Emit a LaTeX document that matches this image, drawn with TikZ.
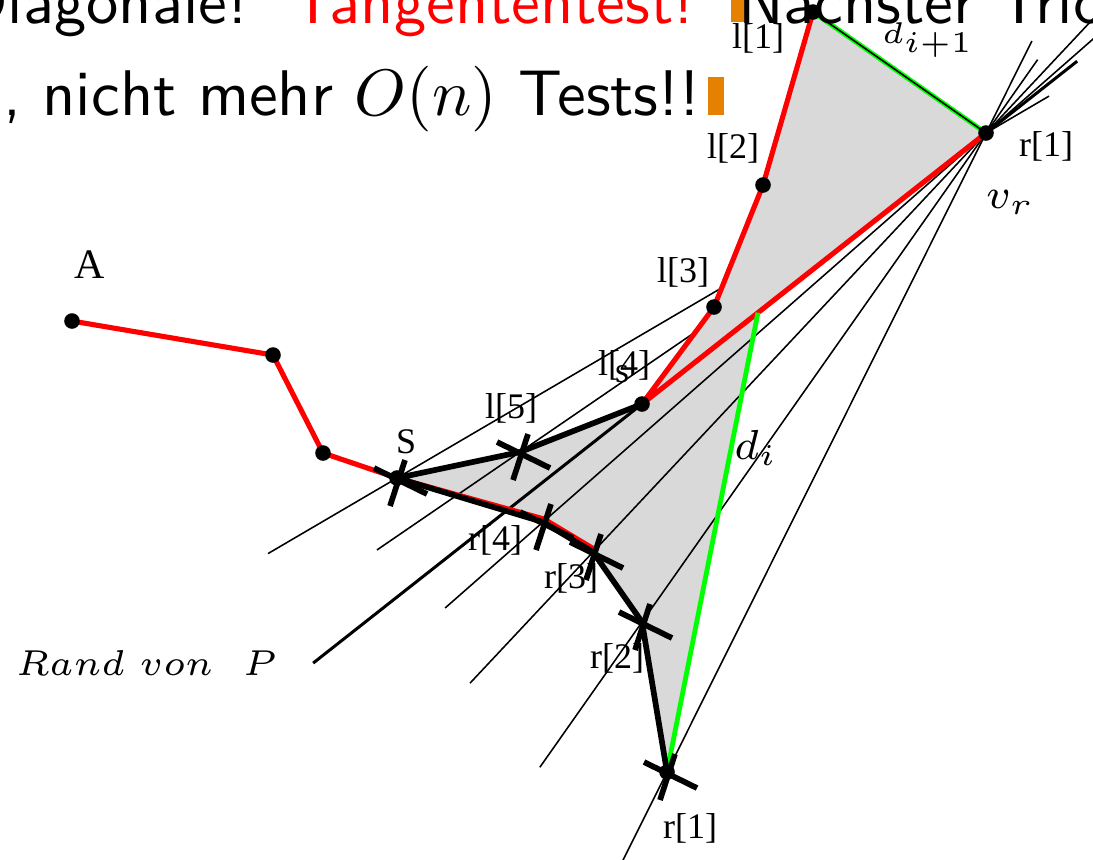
\documentclass[tikz,border=0pt]{standalone}
\usepackage{fontspec}
\newfontfamily\timesf{Liberation Serif}
\usetikzlibrary{calc}
\definecolor{slideorange}{RGB}{230,128,0}
\definecolor{polygray}{RGB}{217,217,217}
\definecolor{pureGreen}{RGB}{0,255,0}
\newcommand\xmarkat[1]{\draw[crossmark] ($(#1)+(-23,-10)$) -- ($(#1)+(30,16)$) ($(#1)+(8,-18)$) -- ($(#1)+(-7,28)$);}
\begin{document}
\begin{tikzpicture}[x=0.16667pt,y=-0.16667pt,
  thinline/.style={line width=0.26pt},
  medline/.style={line width=0.5pt},
  redline/.style={red,line width=0.85pt},
  greenline/.style={pureGreen,line width=0.8pt},
  chainline/.style={line width=0.95pt,line join=round},
  crossmark/.style={line width=0.95pt},
  dot/.style={circle,fill=black,inner sep=0pt,minimum size=2.6pt},
  lab/.style={font=\fontsize{6}{7}\timesf,inner sep=0pt},
  mlab/.style={font=\fontsize{6.8}{8}\selectfont,inner sep=0pt},
  slide/.style={font=\fontsize{10.75}{12}\sffamily,inner sep=0pt,anchor=base west}]
\useasboundingbox (0,0) rectangle (1093,859);
\clip (0,0) rectangle (1093,859);
% points
\coordinate (vr) at (986,133);
\coordinate (l1) at (813,12);
\coordinate (l2) at (763,185);
\coordinate (l3) at (714,307);
\coordinate (l4) at (642,404);
\coordinate (l5) at (520,452);
\coordinate (S) at (397,478);
\coordinate (r4) at (543,522);
\coordinate (r3) at (593,552);
\coordinate (r2) at (642,622);
\coordinate (rb) at (667,772);
\coordinate (A) at (72,321);
\coordinate (p2) at (273,355);
\coordinate (p3) at (323,453);
\coordinate (X) at ($(l4)!0.337!(vr)$);
% lower gray region
\fill[polygray] (l4) -- (X) -- (rb) -- (r2) -- (r3) -- (r4) -- (S) -- (l5) -- cycle;
% fan of lines through v_r
\draw[thinline] ($(vr)!1.219!(S)$) -- ($(vr)!-0.107!(S)$);
\draw[thinline] ($(vr)!1.307!(l5)$) -- (vr);
\draw[medline] ($(vr)!1.956!(l4)$) -- ($(vr)!-0.265!(l4)$);
\draw[thinline] ($(vr)!1.221!(r4)$) -- ($(vr)!-0.3!(r4)$);
\draw[thinline] ($(vr)!1.313!(r3)$) -- ($(vr)!-0.3!(r3)$);
\draw[thinline] ($(vr)!1.297!(r2)$) -- ($(vr)!-0.15!(r2)$);
\draw[thinline] ($(vr)!1.2!(rb)$) -- ($(vr)!-0.144!(rb)$);
% upper gray region
\fill[polygray] (l1) -- (vr) -- (l4) -- (l3) -- (l2) -- cycle;
% red chains
\draw[redline,line join=round] (A) -- (p2) -- (p3) -- (S) -- ($(r4)+(1,-3)$) -- ($(r3)+(1,-3)$);
\draw[redline,line join=round] (l1) -- (l2) -- (l3) -- (l4) -- (vr);
% diagonals
\draw[greenline] (l1) -- (vr);
\draw[thinline] (l1) -- (vr);
\draw[greenline] (X) -- (rb);
% black chain
\draw[chainline] (l4) -- (l5) -- (S) -- (r4) -- (r3) -- (r2) -- (rb);
% dots
\foreach \p in {vr,l1,l2,l3,l4,S,rb,A,p2,p3}{\node[dot] (d\p) at (\p) {};}
% crosses
\xmarkat{l5}
\xmarkat{S}
\xmarkat{r4}
\xmarkat{r3}
\xmarkat{r2}
\xmarkat{rb}
% labels
\node[lab] (L1) at (758,38) {l[1]};
\node[lab] (L2) at (733,148) {l[2]};
\node[lab] (L3) at (683,272) {l[3]};
\node[lab] (L4) at (624,365) {l[4]};
\node[lab] (Ls) at (622,374) {s};
\node[lab] (L5) at (511,408) {l[5]};
\node[lab] (LS) at (406,442) {S};
\node[lab] (R1) at (1046,146) {r[1]};
\node[lab] (R4) at (495,540) {r[4]};
\node[lab] (R3) at (571,578) {r[3]};
\node[lab] (R2) at (617,658) {r[2]};
\node[lab] (Rb) at (690,828) {r[1]};
\node[font=\fontsize{7}{8}\timesf,inner sep=0pt] (LA) at (90,265) {A};
\node[font=\fontsize{5.4}{7}\selectfont,inner sep=0pt] (Dip) at (928,40) {$d_{i+1}$};
\node[mlab] (Di) at (756,448) {$d_i$};
\node[mlab] (Vr) at (1010,202) {$v_r$};
\node[font=\fontsize{6.5}{8}\selectfont,inner sep=0pt,anchor=west] (Rand) at (15,663) {$Rand\ von\ \ P$};
% slide text
\fill[slideorange] (731,0) rectangle (747,22);
\fill[slideorange] (708,77) rectangle (724,115);
\node[slide] (T1) at (-40,23) {Diagonale!};
\node[slide,text=red] (T2) at (290,23) {Tangententest!};
\node[slide] (T3) at (737,23) {Nächster Trichter};
\node[slide] (T4) at (2,115) {, nicht mehr $O(n)$ Tests!!};
\end{tikzpicture}
\end{document}
